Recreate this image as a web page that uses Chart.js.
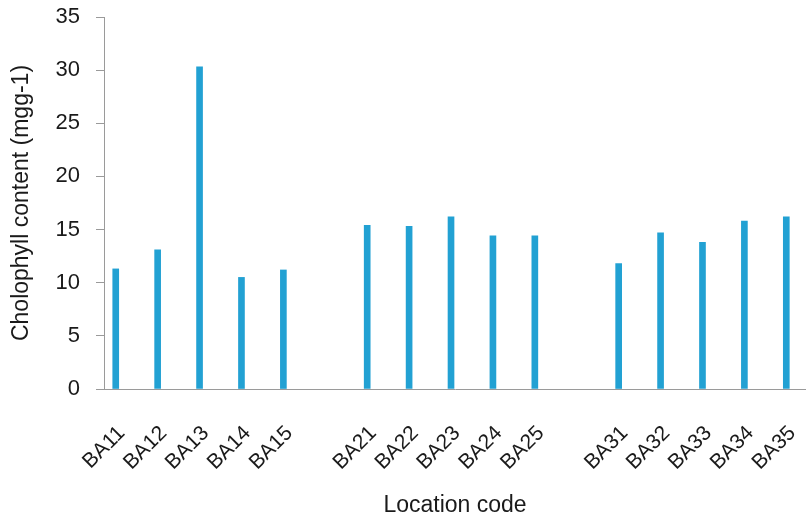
<!DOCTYPE html>
<html>
<head>
<meta charset="utf-8">
<script src="https://cdn.jsdelivr.net/npm/chart.js@4/dist/chart.umd.min.js"></script>
<style>
  html, body { margin: 0; padding: 0; background: #fff; }
  #wrap { width: 806px; height: 517px; }
</style>
</head>
<body>
<div id="wrap"><canvas id="chart"></canvas></div>
<script>
// location codes, '' marks the empty slot between groups
const locations = ['BA11', 'BA12', 'BA13', 'BA14', 'BA15', '',
                   'BA21', 'BA22', 'BA23', 'BA24', 'BA25', '',
                   'BA31', 'BA32', 'BA33', 'BA34', 'BA35'];
const chlorophyll = [11.3, 13.1, 30.3, 10.5, 11.2, null,
                     15.4, 15.3, 16.2, 14.4, 14.4, null,
                     11.8, 14.7, 13.8, 15.8, 16.2];
const yTicks = [0, 5, 10, 15, 20, 25, 30, 35];

const points = chlorophyll
    .map((v, i) => ({ x: i, y: v }))
    .filter(p => p.y !== null);

const textColor = '#1a1a1a';
const axisColor = '#9a9a9a';
const fontFamily = "'Liberation Sans', Arial, sans-serif";

function renderChart() {
    const ctx = document.getElementById('chart').getContext('2d');
    new Chart(ctx, {
        type: 'bar',
        data: {
            datasets: [{
                label: 'Chlorophyll',
                data: points,
                backgroundColor: '#22a1d3',
                borderWidth: 0,
                barThickness: 6
            }]
        },
        options: {
            responsive: true,
            maintainAspectRatio: false,
            animation: false,
            layout: { padding: { top: 17, right: 0, bottom: 0, left: 0 } },
            plugins: {
                legend: { display: false },
                tooltip: { enabled: false }
            },
            scales: {
                x: {
                    type: 'linear',
                    offset: false,
                    min: -0.28,
                    max: 16.47,
                    grid: { drawOnChartArea: false, drawTicks: false },
                    border: { color: axisColor, width: 1 },
                    ticks: {
                        stepSize: 1,
                        includeBounds: false,
                        autoSkip: false,
                        minRotation: 45,
                        maxRotation: 45,
                        padding: 32,
                        labelOffset: 6,
                        color: textColor,
                        font: { family: fontFamily, size: 21 },
                        callback: v => locations[v] || ''
                    },
                    title: {
                        display: true,
                        text: 'Location code',
                        color: textColor,
                        font: { family: fontFamily, size: 23, lineHeight: 1.0 },
                        padding: 0
                    },
                    afterFit: s => {
                        s.height = 128;
                        s.paddingLeft = 0;
                        s.paddingRight = 0;
                    }
                },
                y: {
                    min: 0,
                    max: 35,
                    afterBuildTicks: s => { s.ticks = yTicks.map(v => ({ value: v })); },
                    grid: { drawOnChartArea: false, drawTicks: true, tickLength: 8, color: axisColor },
                    border: { color: axisColor, width: 1 },
                    ticks: {
                        padding: 16,
                        color: textColor,
                        font: { family: fontFamily, size: 22 }
                    },
                    title: {
                        display: true,
                        text: 'Cholophyll content (mgg-1)',
                        color: textColor,
                        font: { family: fontFamily, size: 23, lineHeight: 1.2 },
                        padding: { top: 8, bottom: 0 }
                    },
                    afterFit: s => {
                        s.width = 104;
                        s.paddingTop = 0;
                        s.paddingBottom = 0;
                    }
                }
            }
        }
    });
}

document.addEventListener('DOMContentLoaded', renderChart);
</script>
</body>
</html>
